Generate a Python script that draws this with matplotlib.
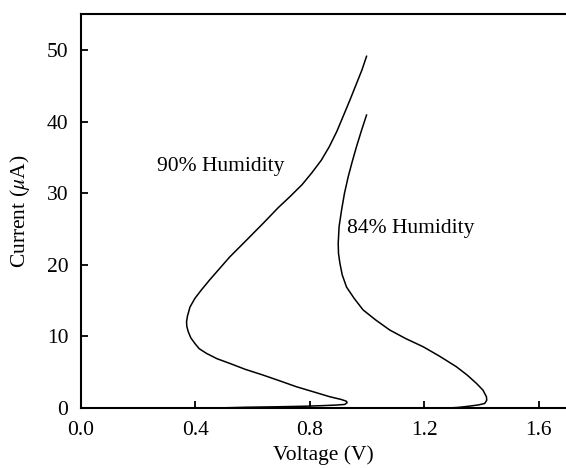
import matplotlib
matplotlib.use("Agg")
import matplotlib.pyplot as plt

plt.rcParams["font.family"] = ["Liberation Serif", "DejaVu Serif"]
plt.rcParams["mathtext.fontset"] = "stix"

# I-V curve, 90% humidity (in drawing order)
v_90 = [0.46, 0.58, 0.695, 0.78, 0.835, 0.89, 0.922, 0.930, 0.928, 0.91,
        0.87, 0.81, 0.753, 0.695, 0.637, 0.575, 0.52, 0.475, 0.439, 0.413,
        0.398, 0.384, 0.375, 0.370, 0.369, 0.372, 0.381, 0.398, 0.421, 0.45,
        0.485, 0.52, 0.58, 0.637, 0.69, 0.73, 0.773, 0.806, 0.84, 0.868,
        0.894, 0.916, 0.94, 0.963, 0.982, 0.998]
i_90 = [0.0, 0.12, 0.19, 0.26, 0.33, 0.42, 0.51, 0.75, 0.95, 1.2,
        1.58, 2.3, 2.98, 3.8, 4.6, 5.4, 6.24, 6.9, 7.63, 8.3,
        9.03, 9.8, 10.66, 11.4, 12.05, 12.8, 14.1, 15.3, 16.5, 17.9,
        19.5, 21.1, 23.5, 25.8, 28.0, 29.5, 31.2, 32.8, 34.6, 36.5,
        38.6, 40.7, 43.0, 45.3, 47.2, 49.1]

# I-V curve, 84% humidity
v_84 = [1.28, 1.32, 1.359, 1.39, 1.411, 1.418, 1.417, 1.405, 1.382, 1.35,
        1.312, 1.255, 1.196, 1.135, 1.079, 1.03, 0.986, 0.955, 0.928, 0.913,
        0.905, 0.900, 0.899, 0.902, 0.911, 0.921, 0.934, 0.948, 0.963, 0.98,
        0.998]
i_84 = [0.0, 0.1, 0.28, 0.45, 0.65, 1.1, 1.58, 2.5, 3.45, 4.6,
        5.77, 7.2, 8.56, 9.7, 10.9, 12.3, 13.7, 15.3, 16.9, 18.6,
        20.2, 21.6, 23.0, 25.3, 27.7, 30.0, 32.3, 34.4, 36.5, 38.7,
        40.9]

x_ticks = [0.0, 0.4, 0.8, 1.2, 1.6]
y_ticks = [0, 10, 20, 30, 40, 50]

fig = plt.figure(figsize=(5.66, 4.68), dpi=100)
ax = fig.add_axes([0.143, 0.128, 0.857, 0.842])

ax.plot(v_90, i_90, color="black", lw=1.1)
ax.plot(v_84, i_84, color="black", lw=1.1)

ax.text(0.265, 33.7, "90% Humidity", fontsize=15.5, va="center", ha="left")
ax.text(0.93, 25.1, "84% Humidity", fontsize=15.5, va="center", ha="left")

ax.set_xlim(0, 1.695)
ax.set_ylim(0, 55)
ax.set_xticks(x_ticks)
ax.set_xticklabels([f"{t:.1f}" for t in x_ticks])
ax.set_yticks(y_ticks)
ax.tick_params(direction="in", length=5, width=1.3, labelsize=15.5)
ax.tick_params(axis="x", pad=9)
ax.tick_params(axis="y", pad=9)
ax.spines["right"].set_visible(False)
for s in ["left", "bottom", "top"]:
    ax.spines[s].set_linewidth(1.5)

ax.set_xlabel("Voltage (V)", fontsize=15.5, labelpad=4)
ax.set_ylabel(r"Current ($\mu$A)", fontsize=15.5, labelpad=11)

fig.savefig("out.png", dpi=100)
